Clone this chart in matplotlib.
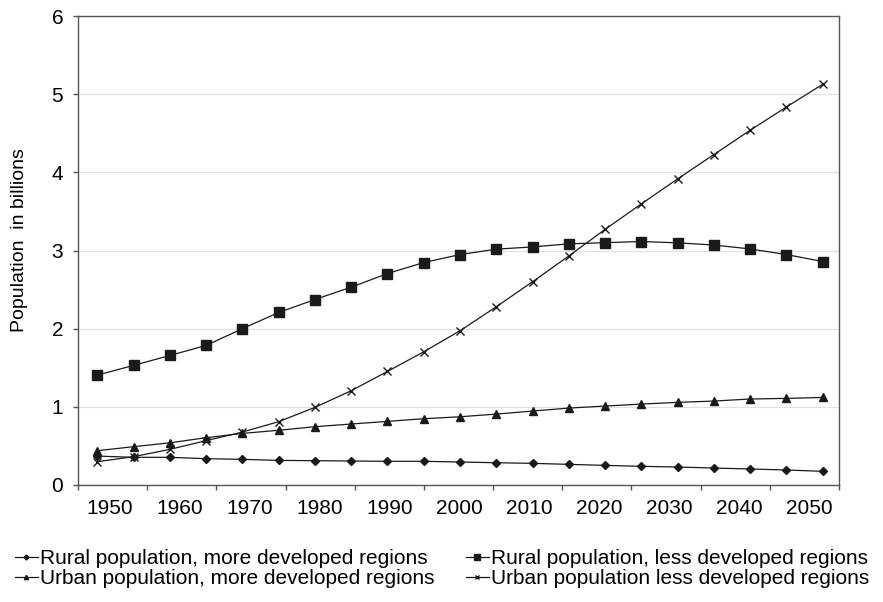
import matplotlib
matplotlib.use("Agg")
import matplotlib.pyplot as plt
import numpy as np

plt.rcParams['font.family'] = ['Liberation Sans', 'DejaVu Sans']

years = np.arange(1950, 2051, 5)
year_labels = [str(y) for y in range(1950, 2051, 10)]

rural_more = [0.37, 0.354, 0.354, 0.337, 0.328, 0.315, 0.311, 0.307, 0.303, 0.303, 0.294,
              0.285, 0.277, 0.264, 0.251, 0.239, 0.23, 0.217, 0.205, 0.192, 0.175]
rural_less = [1.406, 1.53, 1.657, 1.785, 2.00, 2.207, 2.373, 2.531, 2.705, 2.846, 2.948,
              3.017, 3.046, 3.085, 3.10, 3.115, 3.098, 3.07, 3.02, 2.948, 2.859]
urban_more = [0.439, 0.49, 0.54, 0.605, 0.66, 0.70, 0.746, 0.78, 0.814, 0.848, 0.873,
              0.907, 0.946, 0.984, 1.01, 1.035, 1.057, 1.074, 1.10, 1.108, 1.12]
urban_less = [0.298, 0.362, 0.456, 0.567, 0.677, 0.81, 0.993, 1.206, 1.453, 1.704, 1.973,
              2.28, 2.60, 2.93, 3.27, 3.596, 3.916, 4.227, 4.538, 4.836, 5.126]

fig = plt.figure(figsize=(8.83, 6.02), dpi=100)
ax = fig.add_axes([78/883, 1 - 485/602, 761/883, 469/602])

kw = dict(color='#1a1a1a', lw=0.9, zorder=3)
ax.plot(years, rural_more, marker='D', ms=4.2, label='Rural population, more developed regions', **kw)
ax.plot(years, urban_more, marker='^', ms=5.2, label='Urban population, more developed regions', **kw)
ax.plot(years, rural_less, marker='s', ms=6.7, label='Rural population, less developed regions', **kw)
ax.plot(years, urban_less, marker='x', ms=6, mew=1.0, label='Urban population less developed regions', **kw)

# excel-style category axis: ticks between the labels
xmin, xmax = 1947.34, 2052.25
ax.set_xlim(xmin, xmax)
ax.set_ylim(0, 6)
ax.set_yticks(range(0, 7))
ax.grid(axis='y', color='#e8e0d8', lw=0.9, zorder=0)

bounds = np.linspace(xmin, xmax, 12)
centers = np.linspace(1951.7, 2048.2, 11)
ax.set_xticks(bounds)
ax.set_xticklabels([''] * len(bounds))
ax.set_xticks(centers, minor=True)
ax.set_xticklabels(year_labels, minor=True)
ax.tick_params(axis='both', which='major', direction='out', length=3.6, width=1.0,
               color='#555555', labelsize=15, pad=7)
ax.tick_params(axis='x', which='minor', length=0, labelsize=15, pad=10)

for s in ax.spines.values():
    s.set_color('#555555')
    s.set_linewidth(1.0)

ax.set_ylabel('Population  in billions', fontsize=14)
ax.yaxis.set_label_coords(-0.066, 0.522)

fig.legend(loc='upper left', bbox_to_anchor=(0.017, 0.088), ncol=2, frameon=False,
           fontsize=15, handlelength=1.1, handletextpad=0.1, columnspacing=1.5,
           labelspacing=0.05, borderpad=0, borderaxespad=0, markerscale=0.6)

fig.savefig('out.png', dpi=100)
